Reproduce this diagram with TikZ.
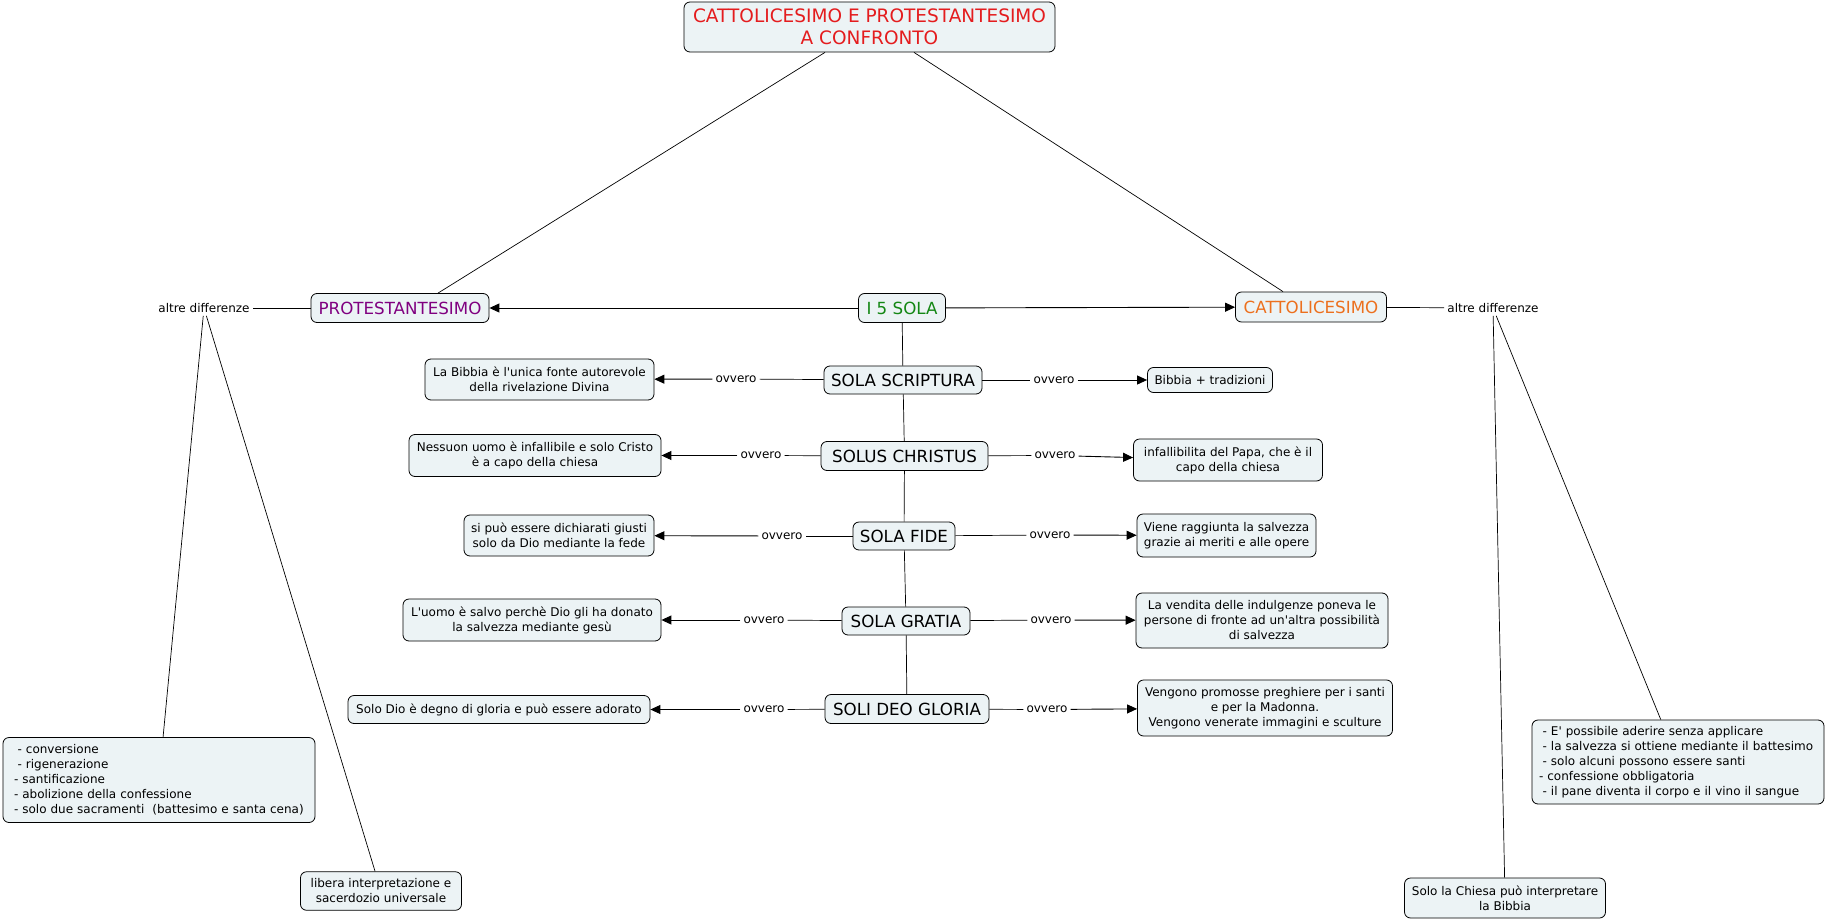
\documentclass[tikz,border=0pt]{standalone}
\usepackage{fontspec}
\setmainfont{DejaVu Sans}[Ligatures=TeXOff]
\usetikzlibrary{arrows.meta}
\definecolor{boxfill}{RGB}{236,243,245}
\definecolor{titlered}{RGB}{228,28,30}
\definecolor{protpurple}{RGB}{128,0,128}
\definecolor{solagreen}{RGB}{20,135,20}
\definecolor{cattorange}{RGB}{236,112,30}
\newcommand\smallfnt{\fontsize{12pt}{15pt}\selectfont}
\newcommand\concfnt{\fontsize{16.7pt}{20pt}\selectfont}
\newcommand\titlefnt{\fontsize{18.5pt}{22pt}\selectfont}
\newcommand\lsp{\hspace*{3.6pt}}
\begin{document}
\begin{tikzpicture}[x=1pt,y=-1pt,
  box/.style={draw=black, fill=boxfill, rounded corners=6pt, line width=0.8pt,
    inner sep=2pt, align=center, font=\smallfnt},
  concept/.style={box, font=\concfnt},
  plain/.style={inner sep=3pt, font=\smallfnt},
  conn/.style={draw=black, line width=0.7pt},
  arr/.style={conn, line width=0.9pt, -{Triangle[length=10pt,width=9pt]}}]
\useasboundingbox (0,0) rectangle (1827,920);
\fill[white] (0,0) rectangle (1827,920);

% title and main concepts
\node[concept, font=\titlefnt, text=titlered, minimum width=371pt, minimum height=50pt] (title) at (869.5,27)
  {CATTOLICESIMO E PROTESTANTESIMO\\A CONFRONTO};
\node[concept, text=protpurple, minimum width=178pt, minimum height=29pt] (prot) at (400,308) {PROTESTANTESIMO};
\node[concept, text=solagreen, minimum width=87pt, minimum height=29pt] (sola) at (902,308) {I 5 SOLA};
\node[concept, text=cattorange, minimum width=151pt, minimum height=30pt] (catt) at (1311,307) {CATTOLICESIMO};
\node[plain] (altL) at (204,308) {altre differenze};
\node[plain] (altR) at (1493,308) {altre differenze};

% the five sola
\node[concept, minimum width=158pt, minimum height=28pt] (ss) at (903,380) {SOLA SCRIPTURA};
\node[concept, minimum width=167pt, minimum height=29pt] (sc) at (904.5,456) {SOLUS CHRISTUS};
\node[concept, minimum width=102pt, minimum height=28pt] (sf) at (904,536) {SOLA FIDE};
\node[concept, minimum width=128pt, minimum height=28pt] (sg) at (906,621) {SOLA GRATIA};
\node[concept, minimum width=164pt, minimum height=29pt] (sdg) at (907,709) {SOLI DEO GLORIA};

% left boxes
\node[box, minimum width=229pt, minimum height=41pt] (L1) at (539.5,379.5)
  {La Bibbia è l'unica fonte autorevole\\della rivelazione Divina};
\node[box, minimum width=252pt, minimum height=42pt] (L2) at (535,455.5)
  {Nessuon uomo è infallibile e solo Cristo\\è a capo della chiesa};
\node[box, minimum width=190pt, minimum height=41pt] (L3) at (559,535.5)
  {si può essere dichiarati giusti\\solo da Dio mediante la fede};
\node[box, minimum width=258pt, minimum height=42pt] (L4) at (532,620)
  {L'uomo è salvo perchè Dio gli ha donato\\la salvezza mediante gesù};
\node[box, minimum width=302pt, minimum height=28pt] (L5) at (499,709.5)
  {Solo Dio è degno di gloria e può essere adorato};

% right boxes
\node[box, minimum width=125pt, minimum height=25pt] (R1) at (1210,380) {Bibbia + tradizioni};
\node[box, minimum width=189pt, minimum height=42pt] (R2) at (1228,460)
  {infallibilita del Papa, che è il\\capo della chiesa};
\node[box, minimum width=179pt, minimum height=43pt] (R3) at (1226.5,535.5)
  {Viene raggiunta la salvezza\\grazie ai meriti e alle opere};
\node[box, minimum width=252pt, minimum height=55pt] (R4) at (1262,620.5)
  {La vendita delle indulgenze poneva le\\persone di fronte ad un'altra possibilità\\di salvezza};
\node[box, minimum width=255pt, minimum height=56pt] (R5) at (1265,708)
  {Vengono promosse preghiere per i santi\\e per la Madonna.\\Vengono venerate immagini e sculture};

% bottom boxes
\node[box, align=left, text width=290pt, inner xsep=11pt, minimum height=85pt] (listL) at (159,780)
  {\lsp- conversione\\\lsp- rigenerazione\\- santificazione\\- abolizione della confessione\\- solo due sacramenti\ \ (battesimo e santa cena)};
\node[box, minimum width=161pt, minimum height=38.5pt] (libera) at (381,891)
  {libera interpretazione e\\sacerdozio universale};
\node[box, align=left, text width=278pt, inner xsep=7pt, minimum height=84pt] (listR) at (1678,762)
  {\lsp- E' possibile aderire senza applicare\\\lsp- la salvezza si ottiene mediante il battesimo\\\lsp- solo alcuni possono essere santi\\- confessione obbligatoria\\\lsp- il pane diventa il corpo e il vino il sangue};
\node[box, minimum width=201pt, minimum height=40pt] (chiesa) at (1505,898)
  {Solo la Chiesa può interpretare\\la Bibbia};

% ovvero labels
\node[plain] (o1l) at (736,379) {ovvero};
\node[plain] (o1r) at (1054,380) {ovvero};
\node[plain] (o2l) at (761,455.5) {ovvero};
\node[plain] (o2r) at (1055,455.5) {ovvero};
\node[plain] (o3l) at (782,536) {ovvero};
\node[plain] (o3r) at (1050,535) {ovvero};
\node[plain] (o4l) at (764,620) {ovvero};
\node[plain] (o4r) at (1051,620) {ovvero};
\node[plain] (o5l) at (764,709.5) {ovvero};
\node[plain] (o5r) at (1047,709.5) {ovvero};

% connectors
\draw[conn] ([xshift=-44.5pt]title.south) -- ([xshift=38pt]prot.north);
\draw[conn] ([xshift=44.5pt]title.south) -- ([xshift=-28pt]catt.north);
\draw[arr] (sola) -- (prot);
\draw[arr] (sola) -- (catt);
\draw[conn] (prot) -- (altL);
\draw[conn] (catt) -- (altR);
\draw[conn] (sola) -- (ss);
\draw[conn] (ss) -- (sc);
\draw[conn] (sc) -- (sf);
\draw[conn] (sf) -- (sg);
\draw[conn] (sg) -- (sdg);

\draw[conn] (ss) -- (o1l); \draw[arr] (o1l) -- (L1);
\draw[conn] (ss) -- (o1r); \draw[arr] (o1r) -- (R1);
\draw[conn] (sc) -- (o2l); \draw[arr] (o2l) -- (L2);
\draw[conn] (sc) -- (o2r); \draw[arr] (o2r) -- (R2);
\draw[conn] (sf) -- (o3l); \draw[arr] (o3l) -- (L3);
\draw[conn] (sf) -- (o3r); \draw[arr] (o3r) -- (R3);
\draw[conn] (sg) -- (o4l); \draw[arr] (o4l) -- (L4);
\draw[conn] (sg) -- (o4r); \draw[arr] (o4r) -- (R4);
\draw[conn] (sdg) -- (o5l); \draw[arr] (o5l) -- (L5);
\draw[conn] (sdg) -- (o5r); \draw[arr] (o5r) -- (R5);

\draw[conn] (altL) -- (listL);
\draw[conn] (altL) -- (libera);
\draw[conn] (altR) -- (chiesa);
\draw[conn] (altR) -- (listR);
\end{tikzpicture}
\end{document}
